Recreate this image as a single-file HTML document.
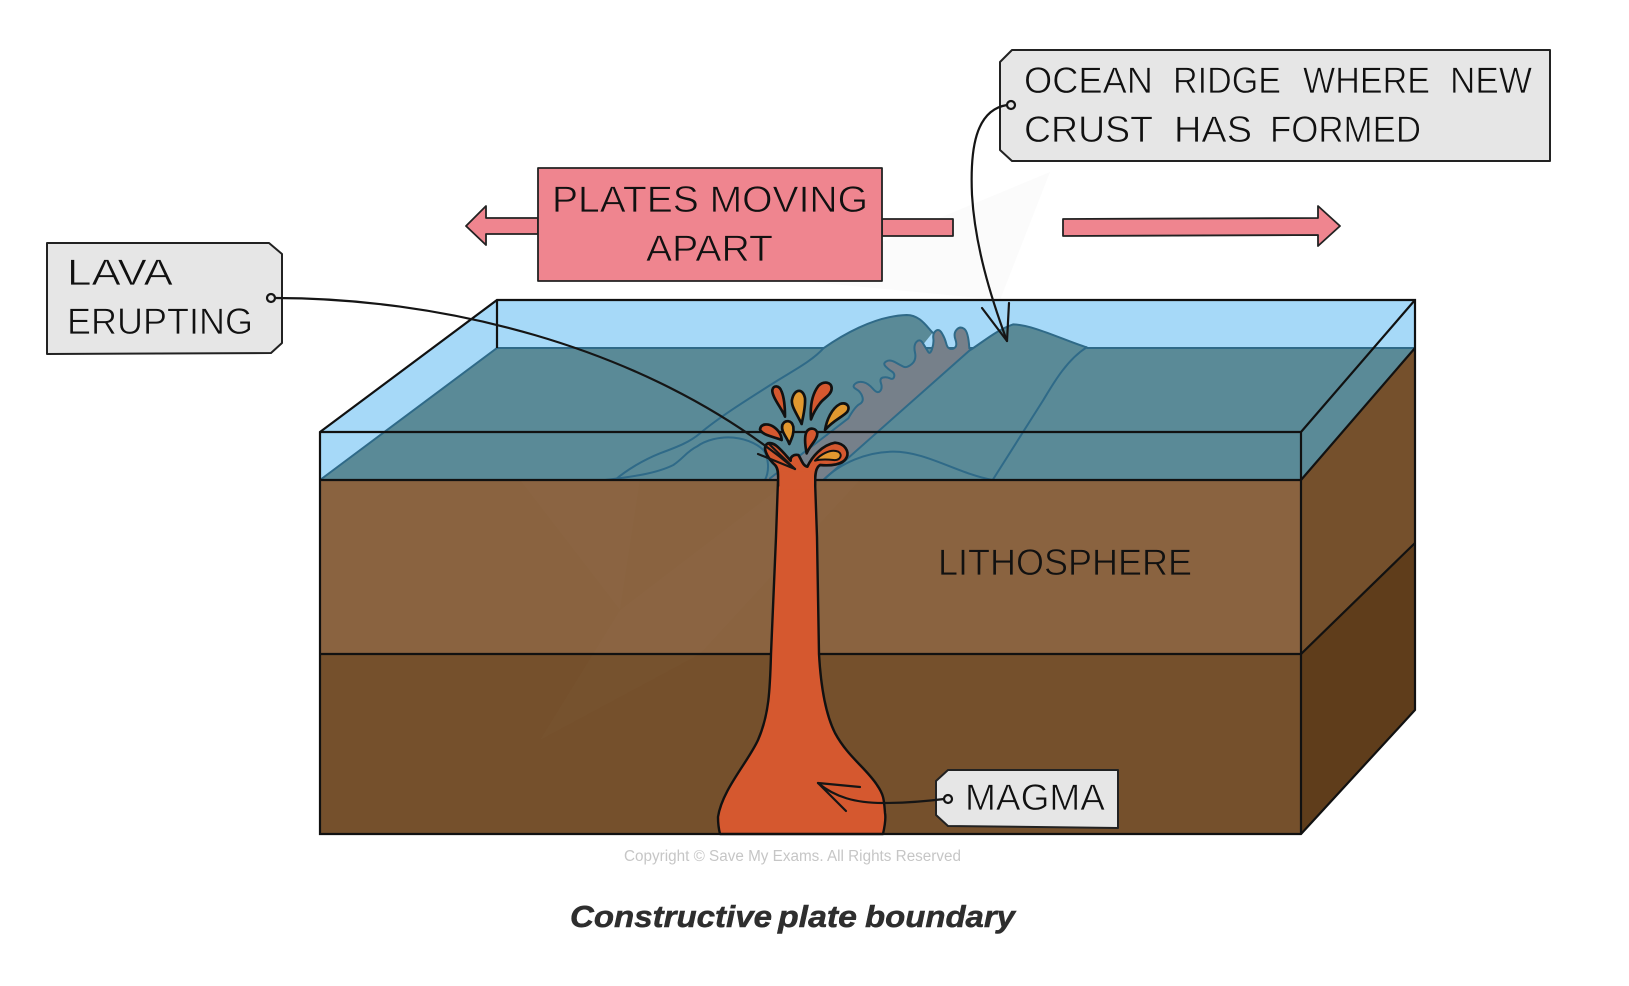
<!DOCTYPE html>
<html lang="en">
<head>
<meta charset="utf-8">
<title>Constructive plate boundary</title>
<style>
html,body{margin:0;padding:0;background:#fff}
svg{display:block}
.l{font-family:"Liberation Sans",sans-serif;font-size:37px;fill:#111;stroke-width:.7}
.t{stroke:#e6e6e6}
.p{stroke:#ef858f}
.b{stroke:#8a6340}
.c{font-family:"Liberation Sans",sans-serif;font-size:31px;font-weight:bold;font-style:italic;fill:#2e2e2e;stroke:#2e2e2e;stroke-width:.5}
</style>
</head>
<body>
<svg width="1629" height="986" viewBox="0 0 1629 986" xmlns="http://www.w3.org/2000/svg">
<rect width="1629" height="986" fill="#fff"/>

<!-- faint watermark outside block -->
<polygon points="1050,172 790,280 1000,300" fill="#fbfbfb"/>

<!-- water + floor -->
<polygon points="320,432 497,300 1415,300 1415,348 1301,480 320,480" fill="#a6d9f8"/>
<polygon points="320,480 497,348 1415,348 1301,480" fill="#5a8a97"/>
<path d="M320,480 L497,348 L1415,348" fill="none" stroke="#2f6a88" stroke-width="2"/>

<!-- ridge (coordinates in 3x crop space) -->
<g transform="translate(700,280) scale(.33333)" stroke-linejoin="round" stroke-linecap="round">
  <path d="M300,255 C340,240 350,225 370,205 C420,170 520,108 620,105 C660,105 680,140 698,158 L640,230 L460,340 L300,420 Z" fill="#5a8a97"/>
  <path d="M808,212 C850,185 890,150 940,133 C1000,135 1090,180 1160,202 L1160,212 Z" fill="#5a8a97"/>
  <path d="M445,415 Q465,380 478.500,372.500 Q492,365 487,350 Q482,335 468.500,327.500 Q455,320 465,311.500 Q475,303 490,306.500 Q505,310 518.500,326 Q532,342 540,333.500 Q548,325 543,310 Q538,295 549,292.500 Q560,290 570,295 Q580,300 582.500,290 Q585,280 575,274 Q565,268 556.500,259 Q548,250 559,244 Q570,238 585,246.500 Q600,255 610,260 Q620,265 635,252.500 Q650,240 645,217.500 Q640,195 650,185 Q660,175 669,190 Q678,205 684,215 Q690,225 696,207.500 Q702,190 700,175 Q698,160 707.500,152.500 Q717,145 726,160 Q735,175 738.500,190 Q742,205 751,206.500 Q760,208 766,201.500 Q772,195 766,177.500 Q760,160 770,149 Q780,138 792.500,146.500 Q805,155 808,215 L370,600 L195,600 L300,525 L380,465 Z" fill="#76808a"/>
  <g fill="none" stroke="#2f6a88" stroke-width="6">
    <path d="M-255,600 C-220,570 -170,540 -120,520 C-60,498 -30,485 0,460 C60,410 140,360 235,300 C280,272 340,240 370,205 C420,170 520,108 620,105 C660,105 680,140 698,158"/>
    <path d="M-285,600 C-200,590 -130,580 -80,555 C-50,535 -40,515 -10,500 C20,478 60,472 85,472 C130,472 170,490 190,510 C205,530 210,570 195,600"/>
    <path d="M380,465 L445,415 Q465,380 478.500,372.500 Q492,365 487,350 Q482,335 468.500,327.500 Q455,320 465,311.500 Q475,303 490,306.500 Q505,310 518.500,326 Q532,342 540,333.500 Q548,325 543,310 Q538,295 549,292.500 Q560,290 570,295 Q580,300 582.500,290 Q585,280 575,274 Q565,268 556.500,259 Q548,250 559,244 Q570,238 585,246.500 Q600,255 610,260 Q620,265 635,252.500 Q650,240 645,217.500 Q640,195 650,185 Q660,175 669,190 Q678,205 684,215 Q690,225 696,207.500 Q702,190 700,175 Q698,160 707.500,152.500 Q717,145 726,160 Q735,175 738.500,190 Q742,205 751,206.500 Q760,208 766,201.500 Q772,195 766,177.500 Q760,160 770,149 Q780,138 792.500,146.500 Q805,155 808,205"/>
    <path d="M210,595 L380,465"/>
    <path d="M370,600 L808,212 C850,185 890,150 940,133 C1000,135 1090,180 1160,202"/>
    <path d="M1160,202 C1100,240 1060,310 1030,360 L878,600"/>
    <path d="M370,600 C420,550 500,515 580,515 C680,515 770,580 878,600"/>
  </g>
</g>

<!-- brown faces -->
<rect x="320" y="480" width="981" height="174.500" fill="#8a6340"/>
<rect x="320" y="654" width="981" height="180" fill="#75502c"/>
<polygon points="1301,480 1415,348 1415,543 1301,654" fill="#75502c"/>
<polygon points="1301,654 1415,543 1415,710 1301,834" fill="#5f3d1b"/>

<!-- faint watermark on brown -->
<polygon points="520,480 640,480 620,610 790,480 860,480 700,654 540,740 620,610" fill="#fff" opacity=".012"/>

<!-- outlines -->
<g fill="none" stroke="#111" stroke-width="2.200">
  <path d="M320,432 L497,300 L1415,300 L1415,710 L1301,834 L320,834 L320,432 Z"/>
  <path d="M320,432 H1301 L1415,300"/>
  <path d="M497,300 V348"/>
  <path d="M320,480 H1301 L1415,348"/>
  <path d="M320,654 H1301 L1415,543"/>
  <path d="M1301,432 V834"/>
</g>

<!-- lava conduit -->
<path d="M778,480 L776,537 L771,654 C770,690 769,715 758,740 C748,762 722,790 718,817 C718,825 719,830 720,834 L883,834 C885,825 886,818 885,813 C884,800 884,795 877,785 C866,768 848,757 835,733 C826,715 821,690 819,654 L817,537 L815,480 Z" fill="#d5582f" stroke="#111" stroke-width="2.400" stroke-linejoin="round"/>
<!-- lava head (3x crop space) -->
<g transform="translate(740,370) scale(.33333)" stroke="#111" stroke-width="8" stroke-linejoin="round">
  <path d="M115,345 C115,315 115,295 105,285 C88,270 68,240 78,225 C85,215 100,220 110,228 C130,245 145,265 152,272 C150,262 160,252 175,255 C183,265 188,288 202,290 C215,262 245,225 285,218 C315,220 328,245 320,262 C310,285 270,288 240,285 C228,292 225,310 225,345 Z" fill="#d5582f"/>
  <rect x="118" y="306" width="104" height="52" fill="#d5582f" stroke="none"/>
  <path d="M225,272 C240,255 270,235 295,245 C310,255 300,272 280,270 C260,268 240,268 225,272Z" fill="#e2982f" stroke-width="6"/>
  <path d="M135,140 C125,115 95,80 97,60 C100,45 118,45 125,65 C133,85 135,115 135,140Z" fill="#d5582f"/>
  <path d="M185,162 C170,130 150,105 157,85 C165,55 190,55 195,85 C197,110 190,135 185,162Z" fill="#e2982f"/>
  <path d="M213,148 C210,110 215,75 235,48 C250,32 275,35 275,55 C275,75 250,85 240,100 C228,115 220,130 213,148Z" fill="#d5582f"/>
  <path d="M255,180 C260,150 275,115 300,102 C320,95 332,110 322,125 C310,140 280,150 255,180Z" fill="#e2982f"/>
  <path d="M125,210 C100,200 65,195 60,178 C62,160 85,160 100,170 C115,180 125,195 125,210Z" fill="#d5582f"/>
  <path d="M148,222 C140,200 122,185 127,165 C135,148 155,150 160,170 C163,190 155,205 148,222Z" fill="#e2982f"/>
  <path d="M200,250 C195,225 192,200 200,185 C210,170 230,175 232,190 C232,210 210,225 200,250Z" fill="#d5582f"/>
</g>

<!-- pink arrows -->
<g fill="#ef858f" stroke="#222" stroke-width="1.800" stroke-linejoin="round">
  <path d="M538,218 H486 L486,206 L466,226 L486,245 L486,234 H538 Z"/>
  <rect x="882" y="219" width="71" height="17"/>
  <path d="M1063,219 L1318,218 L1318,206 L1340,226 L1318,246 L1318,235 L1063,236 Z"/>
  <rect x="538" y="168" width="344" height="113"/>
</g>
<text class="l p" x="552" y="212" textLength="316" lengthAdjust="spacingAndGlyphs">PLATES MOVING</text>
<text class="l p" x="646" y="261" textLength="127" lengthAdjust="spacingAndGlyphs">APART</text>

<!-- tags -->
<g fill="#e6e6e6" stroke="#222" stroke-width="2" stroke-linejoin="round">
  <path d="M47,243 H269 L282,254 V343 L271,353 L47,354 Z"/>
  <path d="M1012,50 H1550 V161 H1012 L1000,150 V62 Z"/>
  <path d="M948,770 H1118 V828 L948,826 L936,815 V781 Z"/>
</g>

<text class="l t" x="67" y="285" textLength="106" lengthAdjust="spacingAndGlyphs">LAVA</text>
<text class="l t" x="67" y="334" textLength="186" lengthAdjust="spacingAndGlyphs">ERUPTING</text>

<text class="l t" x="1024" y="93" textLength="129" lengthAdjust="spacingAndGlyphs">OCEAN</text>
<text class="l t" x="1173" y="93" textLength="108" lengthAdjust="spacingAndGlyphs">RIDGE</text>
<text class="l t" x="1303" y="93" textLength="127" lengthAdjust="spacingAndGlyphs">WHERE</text>
<text class="l t" x="1450" y="93" textLength="82" lengthAdjust="spacingAndGlyphs">NEW</text>
<text class="l t" x="1024" y="142" textLength="129" lengthAdjust="spacingAndGlyphs">CRUST</text>
<text class="l t" x="1174" y="142" textLength="78" lengthAdjust="spacingAndGlyphs">HAS</text>
<text class="l t" x="1270" y="142" textLength="151" lengthAdjust="spacingAndGlyphs">FORMED</text>

<text class="l b" x="938" y="575" textLength="254" lengthAdjust="spacingAndGlyphs">LITHOSPHERE</text>
<text class="l t" x="965" y="810" textLength="140" lengthAdjust="spacingAndGlyphs">MAGMA</text>

<!-- connector lines -->
<g fill="none" stroke="#151515" stroke-width="2.200" stroke-linecap="round" stroke-linejoin="round">
  <circle cx="271" cy="298" r="4"/>
  <path d="M275,298 C430,298 640,340 795,469"/>
  <path d="M758,454 L795,469 L768,443"/>
  <circle cx="1011" cy="105" r="4"/>
  <path d="M1007,105 C975,110 970,150 972,195 C975,245 990,295 1007,341"/>
  <path d="M982,308 L1007,341 L1009,303"/>
  <circle cx="948" cy="799" r="4"/>
  <path d="M944,799 C920,802 900,803 883,803 C855,803 835,797 818,783"/>
  <path d="M860,787 L818,783 L846,811"/>
</g>

<text x="624" y="861" font-family="'Liberation Sans',sans-serif" font-size="15.500" fill="#c6c6c6" textLength="337" lengthAdjust="spacingAndGlyphs">Copyright © Save My Exams. All Rights Reserved</text>
<text class="c" x="570" y="927" textLength="202" lengthAdjust="spacingAndGlyphs">Constructive</text>
<text class="c" x="778" y="927" textLength="79" lengthAdjust="spacingAndGlyphs">plate</text>
<text class="c" x="865" y="927" textLength="150" lengthAdjust="spacingAndGlyphs">boundary</text>
</svg>
</body>
</html>
